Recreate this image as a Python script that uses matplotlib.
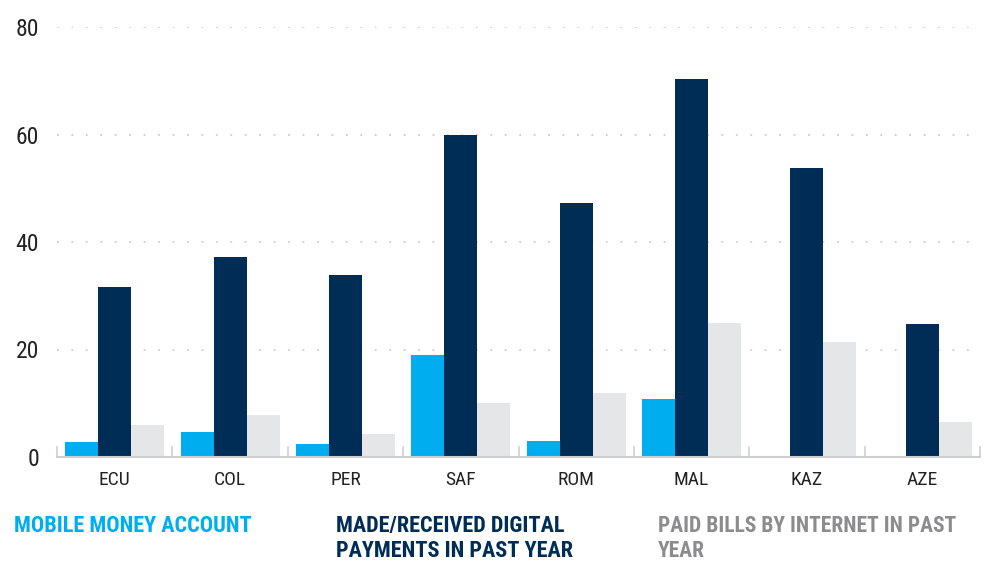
import matplotlib
matplotlib.use("Agg")
import matplotlib.pyplot as plt
import numpy as np
from matplotlib import font_manager

categories = ["ECU", "COL", "PER", "SAF", "ROM", "MAL", "KAZ", "AZE"]
mobile_money = [2.8, 4.6, 2.5, 18.9, 3.0, 10.8, 0, 0]
digital_payments = [31.6, 37.3, 33.8, 59.9, 47.3, 70.3, 53.8, 24.7]
paid_bills = [5.9, 7.9, 4.3, 10.1, 11.9, 24.9, 21.4, 6.6]
series_labels = ["MOBILE MONEY ACCOUNT",
                 "MADE/RECEIVED DIGITAL\nPAYMENTS IN PAST YEAR",
                 "PAID BILLS BY INTERNET IN PAST\nYEAR"]
yticks = [0, 20, 40, 60, 80]

names = {f.name for f in font_manager.fontManager.ttflist}
font = "DejaVu Sans"
for cand in ["Liberation Sans Narrow", "Roboto Condensed", "Open Sans Condensed", "Liberation Sans"]:
    if cand in names:
        font = cand
        break
plt.rcParams['font.family'] = [font, 'DejaVu Sans']

c_blue = "#00AEEF"
c_navy = "#002D56"
c_gray = "#E5E6E8"
c_gray_text = "#8C8C8F"

fig = plt.figure(figsize=(9.84, 5.61), dpi=100)
ax = fig.add_axes([57/984, 104/561, 923/984, 430/561])

x = np.arange(len(categories))
w = 0.286
ax.bar(x - w, mobile_money, w, color=c_blue, zorder=3)
ax.bar(x, digital_payments, w, color=c_navy, zorder=3)
ax.bar(x + w, paid_bills, w, color=c_gray, zorder=3)

ax.set_xlim(-0.5, len(categories) - 0.5)
ax.set_ylim(0, 80)
ax.set_yticks(yticks)
ax.set_yticklabels([str(v) for v in yticks], fontsize=17, color="#222222")
for v in yticks[1:]:
    ax.axhline(v, color="#cdcdcd", linestyle=(0, (1, 7)), linewidth=1.3, zorder=1)

ax.set_xticks(x)
ax.set_xticklabels(categories, fontsize=14, color="#222222")
ax.tick_params(axis='both', length=0)
ax.tick_params(axis='y', pad=13)
ax.tick_params(axis='x', pad=10)

for s in ["top", "right", "left"]:
    ax.spines[s].set_visible(False)
ax.spines["bottom"].set_color("#cfcfd1")
ax.spines["bottom"].set_linewidth(1.5)
ax.spines["bottom"].set_zorder(4)

# separator ticks between categories
for b in np.arange(-0.5, len(categories), 1.0):
    ax.plot([b, b], [0, 1.9], color="#cfcfd1", linewidth=1.2, zorder=2, clip_on=False)

label_colors = [c_blue, c_navy, c_gray_text]
xpos = [14, 336, 658]
sizes = [16, 16, 15.5]
for lab, col, xp, fs in zip(series_labels, label_colors, xpos, sizes):
    fig.text(xp/984, 1 - 515/561, lab, color=col, fontsize=fs, fontweight="bold",
             ha="left", va="top", linespacing=1.2)

fig.savefig("out.png", dpi=100)
